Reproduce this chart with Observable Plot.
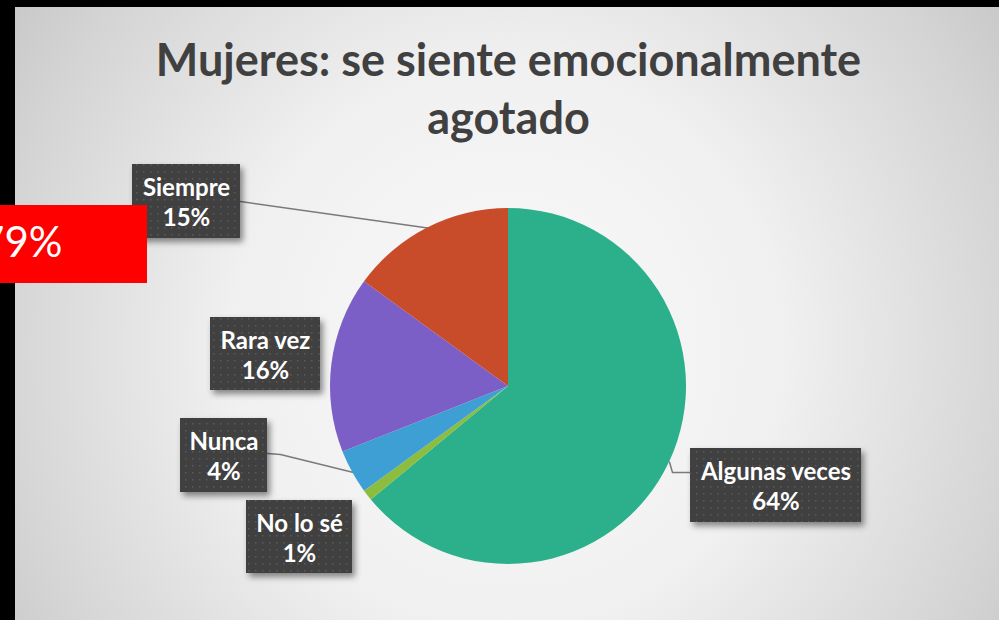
<!DOCTYPE html>
<html>
<head>
<meta charset="utf-8">
<script src="https://cdn.jsdelivr.net/npm/d3@7"></script>
<script src="https://cdn.jsdelivr.net/npm/@observablehq/plot@0.6"></script>
<style>
  html, body { margin: 0; padding: 0; background: #000; width: 999px; height: 620px; overflow: hidden; }
  #bg { position: absolute; left: 15px; top: 7px; width: 984px; height: 613px;
        background: radial-gradient(ellipse 660px 680px at 493px 340px, #fafafa 0%, #f0f0f0 42%, #d4d4d4 78%, #c0c0c0 100%); }
  #chart { position: absolute; left: 0; top: 0; }
</style>
</head>
<body>
<div id="bg"></div>
<div id="chart"></div>
<script>
// ---- data ----
const categories = ["Algunas veces", "No lo sé", "Nunca", "Rara vez", "Siempre"];
const values = [64, 1, 4, 16, 15];
const pctLabels = ["64%", "1%", "4%", "16%", "15%"];
const colors = ["#2bb08b", "#8dbd3e", "#3d9fd3", "#7b5fc6", "#c84b2a"];
const titleLines = ["Mujeres: se siente emocionalmente", "agotado"];
const badgeText = "79%";

// ---- layout (pixels) ----
const W = 999, H = 620;
const CX = 508, CY = 386, R = 178;
// label boxes: center x, center y, width, height
const boxCX = [775.5, 299, 223.5, 265, 186];
const boxCY = [485, 536.5, 455, 353.5, 201];
const boxW = [171, 106, 87, 110, 108];
const boxH = [74, 73, 74, 73, 74];
// leader line start points (box side) and optional elbows; null = no leader
const leaderStart = [[690, 472], null, [267, 453], null, [240, 201]];
const leaderElbow = [[672, 472], null, [280, 454], null, null];

const color = Plot.scale({color: {domain: categories, range: colors}});
const pie = d3.pie().sort(null).value(d => d.value);
const rows = categories.map((c, i) => ({category: c, value: values[i], label: c + "\n" + pctLabels[i]}));
const arcs = pie(rows);

// leader lines from box to slice edge at mid-angle
const leaders = [];
arcs.forEach((a, i) => {
  if (!leaderStart[i]) return;
  const mid = (a.startAngle + a.endAngle) / 2;
  const pts = [leaderStart[i]];
  if (leaderElbow[i]) pts.push(leaderElbow[i]);
  pts.push([CX + R * Math.sin(mid), CY - R * Math.cos(mid)]);
  pts.forEach(p => leaders.push({category: a.data.category, x: p[0], y: p[1]}));
});

const boxes = rows.map((r, i) => ({
  ...r, x1: boxCX[i] - boxW[i] / 2, x2: boxCX[i] + boxW[i] / 2,
  y1: boxCY[i] - boxH[i] / 2, y2: boxCY[i] + boxH[i] / 2, cx: boxCX[i], cy: boxCY[i]
}));

function pieMark(index, scales) {
  const g = d3.create("svg:g").attr("aria-label", "pie");
  const arc = d3.arc().innerRadius(0).outerRadius(R);
  g.append("g")
    .attr("transform", `translate(${scales.x(CX)},${scales.y(CY)})`)
    .selectAll("path").data(arcs).join("path")
    .attr("d", arc)
    .attr("fill", d => color.apply(d.data.category))
    .attr("stroke", "none");
  return g.node();
}

const plot = Plot.plot({
  width: W, height: H,
  margin: 0,
  x: {type: "identity", axis: null},
  y: {type: "identity", axis: null},
  style: {background: "transparent", overflow: "visible"},
  marks: [
    // title
    Plot.text(titleLines, {x: () => 508, y: (d, i) => [61, 119][i], text: d => d,
      fill: "#404040", fontSize: 45, fontFamily: "Lato", fontWeight: 700}),
    // leaders
    Plot.line(leaders, {x: "x", y: "y", z: "category", stroke: "#7a7a7a", strokeWidth: 1.5}),
    pieMark,
    // label boxes
    Plot.rect(boxes, {x1: "x1", x2: "x2", y1: "y1", y2: "y2", fill: "url(#dots)"}),
    Plot.text(boxes, {x: "cx", y: "cy", text: "label", fill: "white", fontSize: 24,
      fontFamily: "Lato", fontWeight: 700, lineHeight: 1.25}),
    // red badge (drawn on top)
    Plot.rect([0], {x1: () => 0, x2: () => 147, y1: () => 205, y2: () => 283, fill: "#ff0000"}),
    Plot.text([badgeText], {x: () => 62, y: () => 243, text: d => d, textAnchor: "end",
      fill: "white", fontSize: 42, fontFamily: "Lato", fontWeight: 400})
  ]
});

// defs: dotted texture & drop shadow
const svg = d3.select(plot);
const defs = svg.insert("defs", ":first-child");
const pat = defs.append("pattern").attr("id", "dots").attr("patternUnits", "userSpaceOnUse")
  .attr("width", 7).attr("height", 7);
pat.append("rect").attr("width", 7).attr("height", 7).attr("fill", "#3f3f3f");
pat.append("rect").attr("x", 3).attr("y", 3).attr("width", 1.5).attr("height", 1.5).attr("fill", "#5a5a5a");
const f = defs.append("filter").attr("id", "shadow").attr("x", "-20%").attr("y", "-20%").attr("width", "150%").attr("height", "150%");
f.append("feDropShadow").attr("dx", 3).attr("dy", 4).attr("stdDeviation", 3).attr("flood-color", "#000").attr("flood-opacity", 0.45);
const rectGroups = svg.selectAll('g[aria-label="rect"]').nodes();
d3.select(rectGroups[0]).attr("filter", "url(#shadow)");

document.getElementById("chart").appendChild(plot);
</script>
</body>
</html>
